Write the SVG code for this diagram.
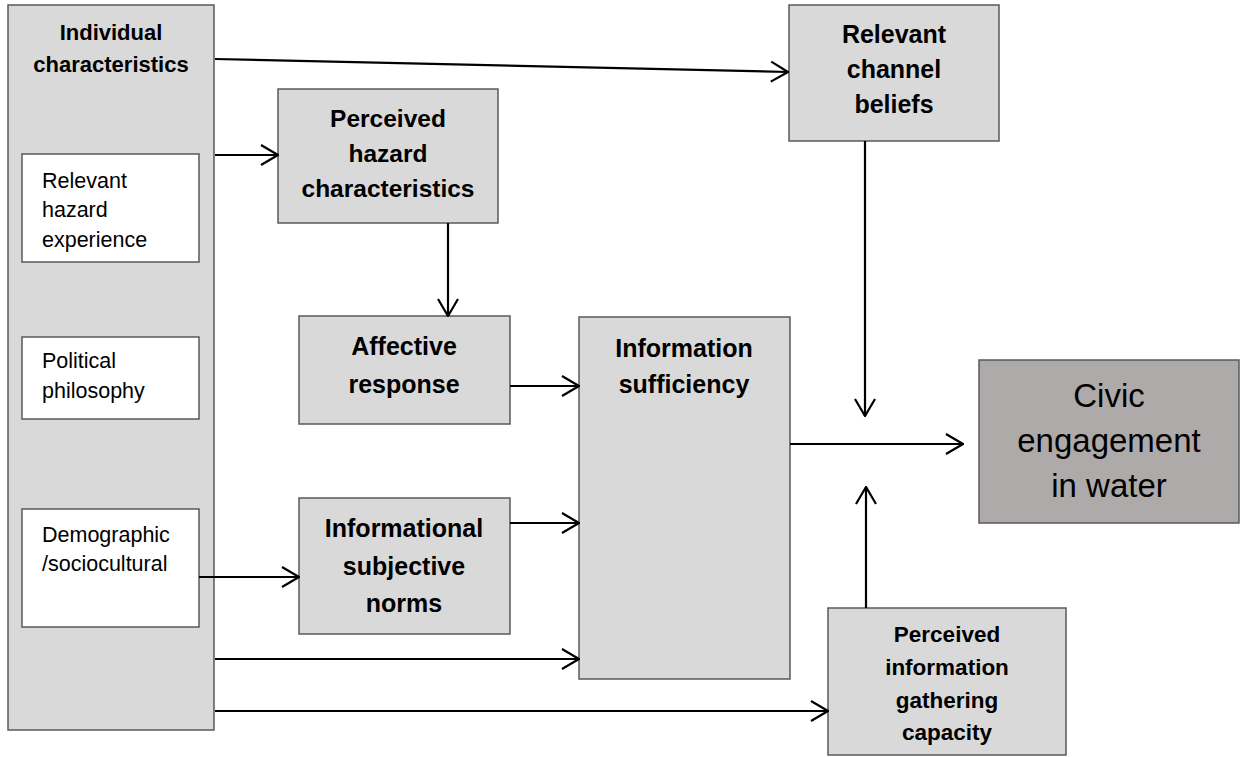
<svg xmlns="http://www.w3.org/2000/svg" width="1243" height="757" viewBox="0 0 1243 757">
<style>
.box{fill:#d9d9d9;stroke:#595959;stroke-width:1.5}
.wbox{fill:#ffffff;stroke:#595959;stroke-width:1.5}
.cbox{fill:#aeaaaa;stroke:#595959;stroke-width:1.5}
.b{font-family:"Liberation Sans",Arial,sans-serif;font-weight:bold;fill:#000;text-anchor:middle}
.n{font-family:"Liberation Sans",Arial,sans-serif;font-size:21.5px;fill:#000}
.c{font-family:"Liberation Sans",Arial,sans-serif;font-size:33px;fill:#000;text-anchor:middle}
.conn line{stroke:#000;stroke-width:2.2;fill:none;marker-end:url(#arr)}
</style>
<defs>
<marker id="arr" markerUnits="userSpaceOnUse" viewBox="0 0 20 24" refX="19" refY="12" markerWidth="20" markerHeight="24" orient="auto">
<path d="M2,2 L19,12 L2,22" fill="none" stroke="#000" stroke-width="2.2"/>
</marker>
</defs>
<g id="individual">
<rect class="box" x="8" y="5" width="206" height="725"/>
<text class="b" font-size="22" x="111" y="40">Individual</text>
<text class="b" font-size="22" x="111" y="72">characteristics</text>
</g>
<g id="hazard-experience">
<rect class="wbox" x="22" y="154" width="177" height="108"/>
<text class="n" x="42" y="188">Relevant</text>
<text class="n" x="42" y="217">hazard</text>
<text class="n" x="42" y="247">experience</text>
</g>
<g id="political">
<rect class="wbox" x="22" y="337" width="177" height="82"/>
<text class="n" x="42" y="368">Political</text>
<text class="n" x="42" y="398">philosophy</text>
</g>
<g id="demographic">
<rect class="wbox" x="22" y="509" width="177" height="118"/>
<text class="n" x="42" y="542">Demographic</text>
<text class="n" x="42" y="571">/sociocultural</text>
</g>
<g id="perceived-hazard">
<rect class="box" x="278" y="89" width="220" height="134"/>
<text class="b" font-size="24.5" x="388" y="127">Perceived</text>
<text class="b" font-size="24.5" x="388" y="162">hazard</text>
<text class="b" font-size="24.5" x="388" y="197">characteristics</text>
</g>
<g id="channel-beliefs">
<rect class="box" x="789" y="5" width="210" height="136"/>
<text class="b" font-size="25" x="894" y="43">Relevant</text>
<text class="b" font-size="25" x="894" y="78">channel</text>
<text class="b" font-size="25" x="894" y="113">beliefs</text>
</g>
<g id="affective">
<rect class="box" x="299" y="316" width="211" height="108"/>
<text class="b" font-size="25" x="404" y="355">Affective</text>
<text class="b" font-size="25" x="404" y="393">response</text>
</g>
<g id="sufficiency">
<rect class="box" x="579" y="317" width="211" height="362"/>
<text class="b" font-size="25" x="684" y="357">Information</text>
<text class="b" font-size="25" x="684" y="393">sufficiency</text>
</g>
<g id="norms">
<rect class="box" x="299" y="498" width="211" height="136"/>
<text class="b" font-size="25" x="404" y="537">Informational</text>
<text class="b" font-size="25" x="404" y="575">subjective</text>
<text class="b" font-size="25" x="404" y="612">norms</text>
</g>
<g id="civic">
<rect class="cbox" x="979" y="360" width="260" height="163"/>
<text class="c" x="1109" y="407">Civic</text>
<text class="c" x="1109" y="452">engagement</text>
<text class="c" x="1109" y="497">in water</text>
</g>
<g id="capacity">
<rect class="box" x="828" y="608" width="238" height="147"/>
<text class="b" font-size="22.5" x="947" y="642">Perceived</text>
<text class="b" font-size="22.5" x="947" y="675">information</text>
<text class="b" font-size="22.5" x="947" y="708">gathering</text>
<text class="b" font-size="22.5" x="947" y="740">capacity</text>
</g>
<g id="connectors" class="conn">
<line x1="215" y1="59" x2="788" y2="72"/>
<line x1="215" y1="155" x2="278" y2="155"/>
<line x1="448" y1="223" x2="448" y2="316"/>
<line x1="510" y1="386" x2="579" y2="386"/>
<line x1="199" y1="577" x2="299" y2="577"/>
<line x1="510" y1="523" x2="579" y2="523"/>
<line x1="215" y1="659" x2="579" y2="659"/>
<line x1="215" y1="711" x2="828" y2="711"/>
<line x1="865" y1="141" x2="865" y2="416"/>
<line x1="790" y1="444" x2="963" y2="444"/>
<line x1="866" y1="608" x2="866" y2="487"/>
</g>
</svg>
